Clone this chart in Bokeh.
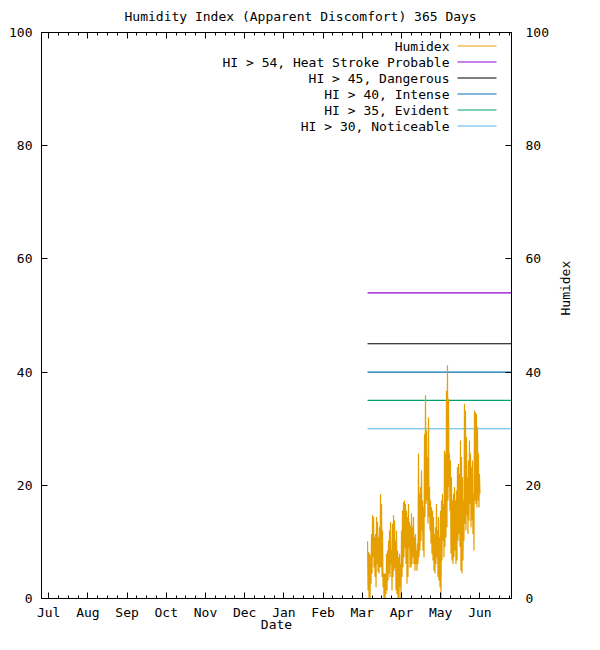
import math
from bokeh.plotting import figure
from bokeh.models import (Range1d, FixedTicker, LinearAxis, Label, Arrow, Title,
                          CustomJSTickFormatter)
from bokeh.embed import file_html
from bokeh.resources import INLINE

# ---------------- data ----------------
TITLE = "Humidity Index (Apparent Discomfort) 365 Days"
X_LABEL = "Date"
Y2_LABEL = "Humidex"
DAYS = 365
MONTHS = ["Jul", "Aug", "Sep", "Oct", "Nov", "Dec",
          "Jan", "Feb", "Mar", "Apr", "May", "Jun"]
FIRST_TICK_DAY = 5.6
TICK_SPACING_DAYS = 30.44
Y_TICKS = [0, 20, 40, 60, 80, 100]

HUMIDEX_START_DAY = 253.2
HUMIDEX_STEP_DAYS = 0.388
# readings in time order (alternating peaks and dips)
HUMIDEX = [
    10.1, 1.4, 8.2, 0.0, 7.9, 0.0, 7.6, 2.6, 11.4, 4.4, 14.7, 7.3, 14.4, 5.5,
    10.8, 3.8, 11.4, 2.0, 14.4, 6.1, 13.5, 4.7, 10.8, 4.4, 12.6, 5.5, 18.4, 5.5,
    16.7, 3.8, 12.0, 2.0, 4.4, 0.0, 4.4, 0.0, 4.4, 0.8, 7.9, 1.4, 8.5, 3.2,
    10.2, 4.4, 12.0, 3.8, 13.5, 6.1, 8.5, 1.4, 13.2, 3.8, 14.7, 4.9, 13.8, 5.5,
    10.2, 1.4, 12.0, 0.8, 8.5, 0.0, 7.3, 0.0, 7.9, 2.0, 6.1, 0.0, 12.0, 3.8,
    15.5, 5.5, 17.0, 7.3,
    17.3, 9.0, 16.7, 6.1, 15.5, 2.6, 14.4, 3.8, 16.7, 9.0, 13.5, 5.5, 12.9, 5.5,
    15.0, 6.1, 12.6, 7.3, 14.4, 6.1, 10.8, 4.9, 11.4, 6.1, 8.5, 4.9, 9.7, 6.1,
    25.6, 7.3, 18.5, 8.5, 19.7, 10.2, 22.6, 12.0, 17.3, 8.5, 16.1, 7.3,
    29.0, 14.4, 35.9, 16.7, 29.7, 17.3, 25.0, 13.2, 32.0, 14.4, 19.7, 12.0,
    17.3, 9.7, 16.1, 7.9, 15.5, 6.7, 14.4, 4.9, 11.4, 4.4, 12.6, 6.1, 16.7, 7.3,
    12.0, 3.8, 14.4, 3.2, 10.8, 2.0,
    15.5, 0.0, 17.3, 6.7, 18.5, 10.2, 16.7, 7.3, 26.1, 9.1, 25.6, 10.8,
    36.7, 12.6, 41.2, 17.3, 35.3, 19.7, 25.6, 15.5, 24.4, 7.9, 21.4, 6.7,
    17.3, 6.1, 18.5, 7.3, 19.7, 8.5, 17.3, 6.1, 19.1, 6.7, 23.2, 10.2,
    23.8, 11.4, 22.0, 9.1, 27.9, 4.9, 25.0, 4.4, 21.4, 6.7, 17.3, 10.2,
    34.4, 13.2, 33.2, 12.0, 28.5, 14.7, 21.4, 11.4, 24.4, 13.8, 27.9, 16.7,
    25.6, 12.6, 23.2, 13.8, 24.4, 11.4, 18.5, 8.5, 33.2, 17.3, 32.9, 16.7,
    32.6, 16.1, 30.3, 17.3, 25.6, 16.1, 22.0, 18.5,
]
HUMIDEX_NAME = "Humidex"
HUMIDEX_COLOR = "#e69f00"

THRESHOLD_VALUES = [54, 45, 40, 35, 30]
THRESHOLD_NAMES = ["HI > 54, Heat Stroke Probable", "HI > 45, Dangerous",
                   "HI > 40, Intense", "HI > 35, Evident", "HI > 30, Noticeable"]
THRESHOLD_COLORS = ["#9400d3", "#000000", "#0072b2", "#009e73", "#56b4e9"]

FONT = "DejaVu Sans Mono"
FS = "13px"

# ---------------- figure ----------------
p = figure(width=584, height=634, x_range=Range1d(0, DAYS), y_range=Range1d(0, 100),
           output_backend="svg", toolbar_location=None,
           x_axis_location=None, y_axis_location=None,
           min_border_left=41, min_border_right=73,
           min_border_top=32, min_border_bottom=36)
p.grid.visible = False
p.outline_line_color = "black"
p.outline_line_width = 1
p.background_fill_color = "white"
p.border_fill_color = "white"

hx = [HUMIDEX_START_DAY + i * HUMIDEX_STEP_DAYS for i in range(len(HUMIDEX))]
for v, c in zip(THRESHOLD_VALUES, THRESHOLD_COLORS):
    p.line([HUMIDEX_START_DAY, DAYS], [v, v], line_color=c, line_width=1.1)
p.line(hx, HUMIDEX, line_color=HUMIDEX_COLOR, line_width=1.2)

# ticks
major = [round(FIRST_TICK_DAY + TICK_SPACING_DAYS * i, 3) for i in range(len(MONTHS))]
minor = []
k = 0
while True:
    t = round(FIRST_TICK_DAY + TICK_SPACING_DAYS / 4 * k, 3)
    if t > DAYS:
        break
    minor.append(t)
    k += 1
xticker = FixedTicker(ticks=major, minor_ticks=minor)
yticker = FixedTicker(ticks=Y_TICKS, minor_ticks=[])


def style(ax, standoff):
    ax.axis_line_color = "black"
    ax.axis_line_width = 1
    ax.major_tick_line_color = "black"
    ax.minor_tick_line_color = "black"
    ax.major_tick_in = 6
    ax.major_tick_out = 0
    ax.minor_tick_in = 3
    ax.minor_tick_out = 0
    ax.major_label_text_font = FONT
    ax.major_label_text_font_style = "normal"
    ax.major_label_text_color = "black"
    ax.major_label_text_font_size = FS
    ax.major_label_standoff = standoff
    ax.axis_label_text_font = FONT
    ax.axis_label_text_font_size = FS
    ax.axis_label_text_font_style = "normal"
    ax.axis_label_text_color = "black"


bottom = LinearAxis(ticker=xticker, axis_label=X_LABEL)
bottom.major_label_overrides = {t: m for t, m in zip(major, MONTHS)}
style(bottom, 6)
bottom.axis_label_standoff = -6

top = LinearAxis(ticker=xticker, formatter=CustomJSTickFormatter(code="return ''"))
style(top, 0)

left = LinearAxis(ticker=yticker)
style(left, 9)

right = LinearAxis(ticker=yticker, axis_label=Y2_LABEL)
style(right, 14)
right.axis_label_standoff = 14
try:
    right.axis_label_orientation = math.pi / 2
except Exception:
    pass

p.add_layout(bottom, "below")
p.add_layout(top, "above")
p.add_layout(left, "left")
p.add_layout(right, "right")

p.title = Title(text=TITLE, align="left", offset=83, text_font=FONT,
                text_font_size=FS, text_font_style="normal", text_color="black",
                vertical_align="top", standoff=14)


# legend (text right-aligned, sample line to the right), screen units in frame
def lab(text, x, y, align="center"):
    p.add_layout(Label(x=x, y=y, x_units="screen", y_units="screen", text=text,
                       text_font=FONT, text_font_size=FS, text_color="black",
                       text_align=align, text_baseline="middle"))


names = [HUMIDEX_NAME] + THRESHOLD_NAMES
colors = [HUMIDEX_COLOR] + THRESHOLD_COLORS
for i, (n, c) in enumerate(zip(names, colors)):
    yy = 552 - 16 * i
    lab(n, 408, yy, align="right")
    p.add_layout(Arrow(start=None, end=None, x_start=416, y_start=yy + 0.5,
                       x_end=455, y_end=yy + 0.5, start_units="screen",
                       end_units="screen", line_color=c, line_width=1))

open("out.html", "w").write(file_html(p, INLINE))
